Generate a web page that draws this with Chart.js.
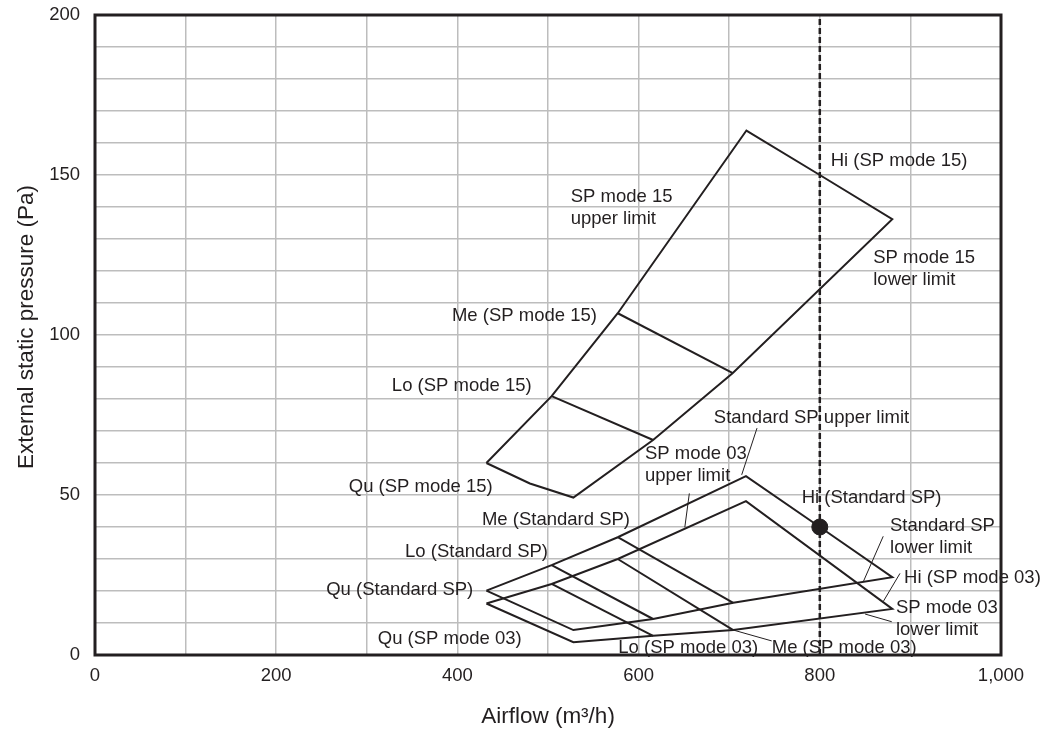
<!DOCTYPE html>
<html>
<head>
<meta charset="utf-8">
<script src="https://cdn.jsdelivr.net/npm/chart.js@4"></script>
<style>
  html, body { margin: 0; padding: 0; background: #fff; }
  #wrap { width: 1045px; height: 731px; }
</style>
</head>
<body>
<div id="wrap"><canvas id="chart"></canvas></div>
<script>
// airflow (m3/h) / external static pressure (Pa)

// SP mode 15: outline Qu -> Lo -> Me -> top -> Hi -> right -> lower limit back to Qu
const mode15X = [432, 504, 577, 719, 800, 880, 704, 616, 528, 480, 432];
const mode15Y = [60, 80.9, 106.8, 163.9, 150, 136.2, 88.1, 67.2, 49.2, 53.6, 60];
const mode15LoX = [504, 616];
const mode15LoY = [80.9, 67.2];
const mode15MeX = [577, 704];
const mode15MeY = [106.8, 88.1];

// Standard SP
const stdX = [432, 504, 577, 718.5, 800, 880, 704.5, 616, 528, 432];
const stdY = [20.1, 28.1, 36.8, 55.9, 40, 24.3, 16.3, 11.25, 7.8, 20.1];
const stdLoX = [504, 616];
const stdLoY = [28.1, 11.25];
const stdMeX = [577, 704.5];
const stdMeY = [36.8, 16.3];

// SP mode 03
const mode03X = [432, 504, 577, 718.5, 880, 704.5, 616, 528, 432];
const mode03Y = [16.1, 22.2, 30, 48.1, 14.4, 7.8, 6.0, 4.0, 16.1];
const mode03LoX = [504, 616];
const mode03LoY = [22.2, 6.0];
const mode03MeX = [577, 704.5];
const mode03MeY = [30, 7.8];

// rated point and its vertical reference line
const ratedAirflow = 800;
const ratedPressure = 40;
const refLineY = [0, 200];

// thin leader lines from curves to their labels
const leaders = [
  [[651, 39.9], [656, 50.5]],      // SP mode 03 upper limit
  [[713.8, 56.3], [730.7, 70.9]],  // Standard SP upper limit
  [[848, 22.9], [870, 37.1]],      // Standard SP lower limit
  [[870, 16.7], [888.5, 25.5]],    // Hi (SP mode 03)
  [[850, 12.8], [879.4, 10.4]],    // SP mode 03 lower limit
  [[704.5, 7.8], [746.9, 4.4]]     // Me (SP mode 03)
];

// text labels (x, y in data units of the first line)
const labels = [
  { text: ['SP mode 15', 'upper limit'], x: 525, y: 143, align: 'left' },
  { text: ['Hi (SP mode 15)'], x: 812, y: 154.4, align: 'left' },
  { text: ['SP mode 15', 'lower limit'], x: 859, y: 124, align: 'left' },
  { text: ['Me (SP mode 15)'], x: 554, y: 106, align: 'right' },
  { text: ['Lo (SP mode 15)'], x: 482, y: 84, align: 'right' },
  { text: ['Qu (SP mode 15)'], x: 439, y: 52.6, align: 'right' },
  { text: ['Standard SP upper limit'], x: 683, y: 74.1, align: 'left' },
  { text: ['SP mode 03', 'upper limit'], x: 607, y: 62.8, align: 'left' },
  { text: ['Hi (Standard SP)'], x: 780, y: 49, align: 'left' },
  { text: ['Standard SP', 'lower limit'], x: 877.5, y: 40.3, align: 'left' },
  { text: ['Hi (SP mode 03)'], x: 893, y: 24, align: 'left' },
  { text: ['SP mode 03', 'lower limit'], x: 884, y: 14.7, align: 'left' },
  { text: ['Me (SP mode 03)'], x: 747, y: 2.1, align: 'left' },
  { text: ['Lo (SP mode 03)'], x: 577.6, y: 2.2, align: 'left' },
  { text: ['Qu (SP mode 03)'], x: 471, y: 4.9, align: 'right' },
  { text: ['Me (Standard SP)'], x: 590.5, y: 42.2, align: 'right' },
  { text: ['Lo (Standard SP)'], x: 500, y: 32.3, align: 'right' },
  { text: ['Qu (Standard SP)'], x: 417.5, y: 20.3, align: 'right' }
];

const xTickLabels = [0, 200, 400, 600, 800, 1000];
const yTickLabels = [0, 50, 100, 150, 200];

const INK = '#231f20';
const FONT = '"Liberation Sans", Arial, sans-serif';

function line(xs, ys, width, dash) {
  return {
    data: xs.map((x, i) => ({ x: x, y: ys[i] })),
    showLine: true,
    borderColor: INK,
    borderWidth: width,
    borderDash: dash || [],
    pointRadius: 0,
    tension: 0,
    fill: false
  };
}

const datasets = [
  line(mode15X, mode15Y, 2),
  line(mode15LoX, mode15LoY, 2),
  line(mode15MeX, mode15MeY, 2),
  line(stdX, stdY, 2),
  line(stdLoX, stdLoY, 2),
  line(stdMeX, stdMeY, 2),
  line(mode03X, mode03Y, 2),
  line(mode03LoX, mode03LoY, 2),
  line(mode03MeX, mode03MeY, 2),
  line([ratedAirflow, ratedAirflow], refLineY, 2.5, [6, 3])
];
leaders.forEach(l => datasets.push(line([l[0][0], l[1][0]], [l[0][1], l[1][1]], 1)));
datasets.push({
  data: [{ x: ratedAirflow, y: ratedPressure }],
  showLine: false,
  pointRadius: 8,
  pointBackgroundColor: INK,
  pointBorderColor: INK
});

const annotate = {
  id: 'annotate',
  afterDatasetsDraw(chart) {
    const { ctx, chartArea: a, scales: { x, y } } = chart;
    ctx.save();
    ctx.fillStyle = INK;
    ctx.font = '18.5px ' + FONT;
    ctx.textBaseline = 'middle';
    labels.forEach(l => {
      ctx.textAlign = l.align;
      l.text.forEach((t, i) => {
        ctx.fillText(t, x.getPixelForValue(l.x), y.getPixelForValue(l.y) + i * 22);
      });
    });
    // frame round the plot
    ctx.lineWidth = 3;
    ctx.strokeStyle = INK;
    ctx.strokeRect(a.left, a.top, a.width, a.height);
    // axis titles
    ctx.font = '22.5px ' + FONT;
    ctx.textAlign = 'center';
    ctx.textBaseline = 'alphabetic';
    ctx.fillText('Airflow (m\u00b3/h)', (a.left + a.right) / 2, 723);
    ctx.translate(33, 327);
    ctx.rotate(-Math.PI / 2);
    ctx.fillText('External static pressure (Pa)', 0, 0);
    ctx.restore();
  }
};

new Chart(document.getElementById('chart'), {
  type: 'scatter',
  data: { datasets: datasets },
  options: {
    responsive: true,
    maintainAspectRatio: false,
    animation: false,
    layout: { padding: { left: 0, top: 15, right: 44, bottom: 0 } },
    plugins: { legend: { display: false }, tooltip: { enabled: false } },
    scales: {
      x: {
        type: 'linear',
        min: 0,
        max: 1000,
        afterFit: s => { s.height = 76; s.paddingLeft = 0; s.paddingRight = 0; },
        grid: { color: '#bdbdbd', lineWidth: 1.5, drawTicks: false },
        border: { display: false },
        ticks: {
          stepSize: 100,
          autoSkip: false,
          maxRotation: 0,
          padding: 10,
          color: INK,
          font: { family: FONT, size: 18.5 },
          callback: v => xTickLabels.includes(v) ? v.toLocaleString('en-US') : ''
        }
      },
      y: {
        type: 'linear',
        min: 0,
        max: 200,
        afterFit: s => { s.width = 95; s.paddingTop = 0; s.paddingBottom = 0; },
        grid: { color: '#bdbdbd', lineWidth: 1.5, drawTicks: false },
        border: { display: false },
        ticks: {
          stepSize: 10,
          autoSkip: false,
          padding: 15,
          color: INK,
          font: { family: FONT, size: 18.5 },
          callback: v => yTickLabels.includes(v) ? v : ''
        }
      }
    }
  },
  plugins: [annotate]
});
</script>
</body>
</html>
